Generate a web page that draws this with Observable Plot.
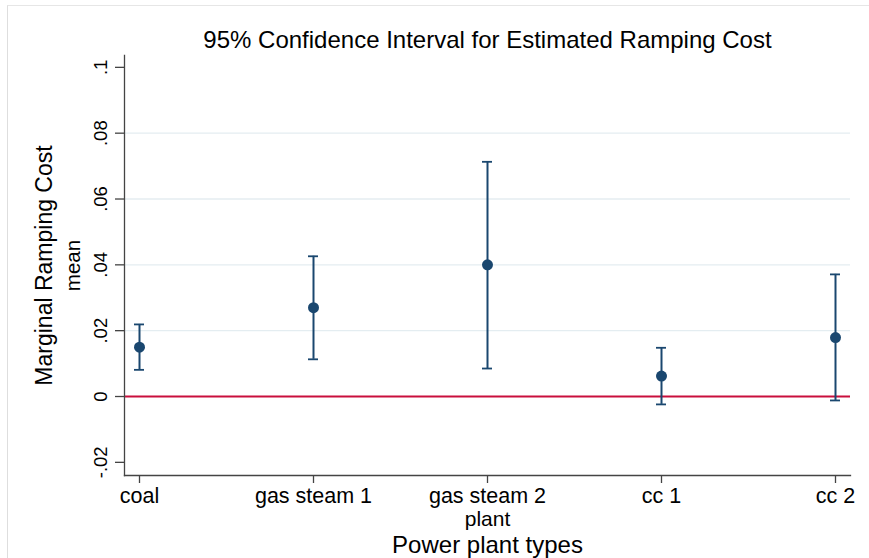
<!DOCTYPE html>
<html><head><meta charset="utf-8">
<script src="https://cdn.jsdelivr.net/npm/d3@7"></script>
<script src="https://cdn.jsdelivr.net/npm/@observablehq/plot@0.6"></script>
<style>
html,body{margin:0;padding:0;background:#fff;}
#wrap{position:relative;width:869px;height:558px;overflow:hidden;font-family:"Liberation Sans",Arial,sans-serif;}
#border{position:absolute;left:7px;top:5px;width:880px;height:600px;border-top:1px solid #e6e6e6;border-left:1px solid #dedede;}
#chart{position:absolute;left:0;top:0;}
</style></head><body>
<div id="wrap"><div id="border"></div><div id="chart"></div></div>
<script>
const plants = ["coal", "gas steam 1", "gas steam 2", "cc 1", "cc 2"];
const means = [0.0150, 0.0270, 0.0400, 0.0062, 0.0179];
const lower = [0.0081, 0.0113, 0.0085, -0.0024, -0.0012];
const upper = [0.0219, 0.0426, 0.0713, 0.0148, 0.0371];
const yTicks = [-0.02, 0, 0.02, 0.04, 0.06, 0.08, 0.1];
const gridTicks = [0.02, 0.04, 0.06, 0.08];
const titleText = "95% Confidence Interval for Estimated Ramping Cost";
const yTitle = "Marginal Ramping Cost";
const ySubTitle = "mean";
const xSubTitle = "plant";
const xTitle = "Power plant types";

const data = plants.map((p, i) => ({plant: p, mean: means[i], lo: lower[i], hi: upper[i]}));
const fmt = d => d === 0 ? "0" : String(+d.toFixed(2)).replace(/^(-?)0\./, "$1.");
const navy = "#1a476f";
const axisColor = "#444";
const font = "Liberation Sans, Arial, sans-serif";

const chart = Plot.plot({
  width: 869,
  height: 558,
  marginTop: 55,
  marginBottom: 83,
  marginLeft: 124,
  marginRight: 19,
  style: {background: "transparent", fontFamily: font, color: "#000"},
  x: {type: "band", domain: plants, paddingInner: 0.94, paddingOuter: 0.05, align: 0.5, label: null},
  y: {domain: [-0.024, 0.1036], label: null},
  marks: [
    Plot.ruleY(gridTicks, {stroke: "#e4edf1", strokeWidth: 1.3}),
    Plot.ruleY([0], {stroke: "#c90f3c", strokeWidth: 2}),
    Plot.frame({anchor: "left", stroke: axisColor, strokeWidth: 1.3}),
    Plot.frame({anchor: "bottom", stroke: axisColor, strokeWidth: 1.3}),
    Plot.axisY(yTicks, {tickSize: 9, stroke: axisColor, strokeWidth: 1.3, tickFormat: () => "", label: null}),
    Plot.text(yTicks, {y: d => d, text: fmt, frameAnchor: "left", rotate: -90, dx: -23, fontSize: 18.5, textAnchor: "middle", lineAnchor: "middle", fill: "#000"}),
    Plot.axisX({tickSize: 8, tickPadding: 4.5, stroke: axisColor, strokeWidth: 1.3, fontSize: 21.5, fill: "#000", label: null}),
    Plot.ruleX(data, {x: "plant", y1: "lo", y2: "hi", stroke: navy, strokeWidth: 2}),
    Plot.tickY(data, {x: "plant", y: "hi", stroke: navy, strokeWidth: 1.8}),
    Plot.tickY(data, {x: "plant", y: "lo", stroke: navy, strokeWidth: 1.8}),
    Plot.dot(data, {x: "plant", y: "mean", r: 5.5, fill: navy, stroke: "none"}),
    Plot.text([titleText], {frameAnchor: "top", dy: -15.6, fontSize: 24, textAnchor: "middle", lineAnchor: "middle", fill: "#000"}),
    Plot.text([yTitle], {frameAnchor: "left", rotate: -90, dx: -80, fontSize: 23, textAnchor: "middle", lineAnchor: "middle", fill: "#000"}),
    Plot.text([ySubTitle], {frameAnchor: "left", rotate: -90, dx: -51, fontSize: 20.5, textAnchor: "middle", lineAnchor: "middle", fill: "#000"}),
    Plot.text([xSubTitle], {frameAnchor: "bottom", dy: 43.6, fontSize: 21, textAnchor: "middle", lineAnchor: "middle", fill: "#000"}),
    Plot.text([xTitle], {frameAnchor: "bottom", dy: 69.4, fontSize: 24, textAnchor: "middle", lineAnchor: "middle", fill: "#000"})
  ]
});
document.getElementById("chart").appendChild(chart);
</script>
</body></html>
